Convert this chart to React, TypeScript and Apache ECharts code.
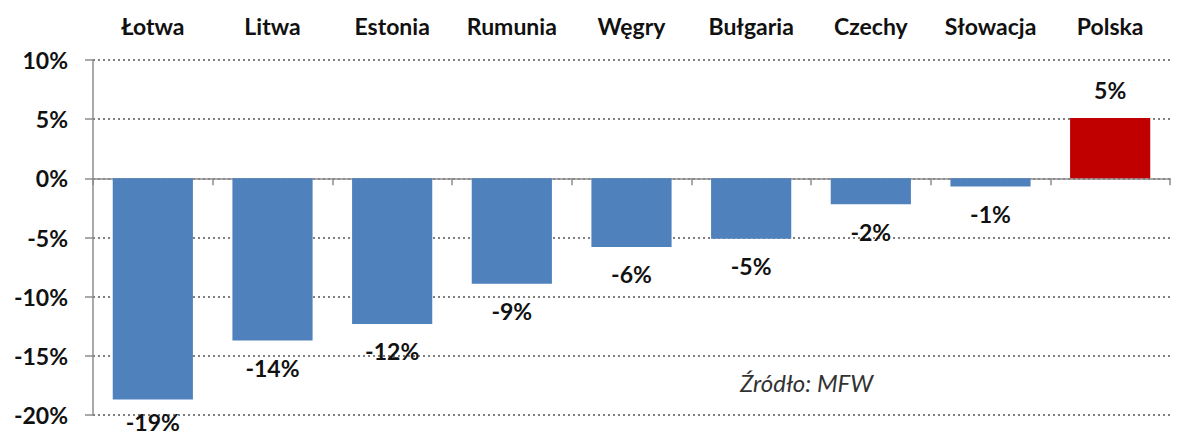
import React, { useEffect, useRef } from "react";
import * as echarts from "echarts";

const categories = ["Łotwa", "Litwa", "Estonia", "Rumunia", "Węgry", "Bułgaria", "Czechy", "Słowacja", "Polska"];
const values = [-18.7, -13.7, -12.3, -8.9, -5.8, -5.1, -2.2, -0.7, 5.1];
const valueLabels = ["-19%", "-14%", "-12%", "-9%", "-6%", "-5%", "-2%", "-1%", "5%"];
const barColors = ["#4F81BD", "#4F81BD", "#4F81BD", "#4F81BD", "#4F81BD", "#4F81BD", "#4F81BD", "#4F81BD", "#C00000"];
const sourceText = "Źródło: MFW";

const FONT = "Lato, 'Open Sans', sans-serif";

export default function App() {
  const ref = useRef<HTMLDivElement>(null);
  useEffect(() => {
    if (!ref.current) return;
    const chart = echarts.init(ref.current, undefined, { renderer: "svg" });
    chart.setOption({
      animation: false,
      backgroundColor: "#ffffff",
      grid: { left: 93, right: 9, top: 60, bottom: 23, containLabel: false },
      xAxis: [
        {
          type: "category",
          data: categories,
          position: "bottom",
          boundaryGap: true,
          axisLine: { onZero: true, lineStyle: { color: "#8c8c8c", width: 1.5 } },
          axisTick: { show: true, length: 7, lineStyle: { color: "#8c8c8c", width: 1.5 } },
          axisLabel: { show: false },
          splitLine: { show: false },
        },
        {
          type: "category",
          data: categories,
          position: "top",
          boundaryGap: true,
          axisLine: { show: false, onZero: false },
          axisTick: { show: false },
          axisLabel: {
            show: true,
            margin: 23,
            fontFamily: FONT,
            fontWeight: "bold",
            fontSize: 23,
            color: "#111",
          },
        },
      ],
      yAxis: {
        type: "value",
        min: -20,
        max: 10,
        interval: 5,
        axisLine: { show: true, lineStyle: { color: "#8c8c8c", width: 1.5 } },
        axisTick: { show: true, length: 8, lineStyle: { color: "#8c8c8c", width: 1.5 } },
        axisLabel: {
          formatter: (v: number) => `${v}%`,
          margin: 25,
          fontFamily: FONT,
          fontWeight: "bold",
          fontSize: 23,
          color: "#111",
        },
        splitLine: {
          show: true,
          lineStyle: { color: "#7f7f7f", type: [2, 3], width: 2 },
        },
      },
      series: [
        {
          type: "bar",
          xAxisIndex: 0,
          data: values.map((v, i) => ({
            value: v,
            itemStyle: { color: barColors[i] },
            label: {
              show: true,
              position: v < 0 ? "bottom" : "top",
              distance: i === 0 ? 11 : 16,
              formatter: valueLabels[i],
              fontFamily: FONT,
              fontWeight: "bold",
              fontSize: 23,
              color: "#111",
            },
          })),
          barCategoryGap: "33%",
          z: 3,
        },
      ],
      graphic: [
        {
          type: "text",
          left: 740,
          top: 370,
          style: {
            text: sourceText,
            fontFamily: FONT,
            fontStyle: "italic",
            fontSize: 24,
            fill: "#333",
          },
          z: 10,
        },
      ],
    });
    return () => chart.dispose();
  }, []);
  return <div ref={ref} style={{ width: 1179, height: 438, position: "fixed", left: 0, top: 0 }} />;
}
